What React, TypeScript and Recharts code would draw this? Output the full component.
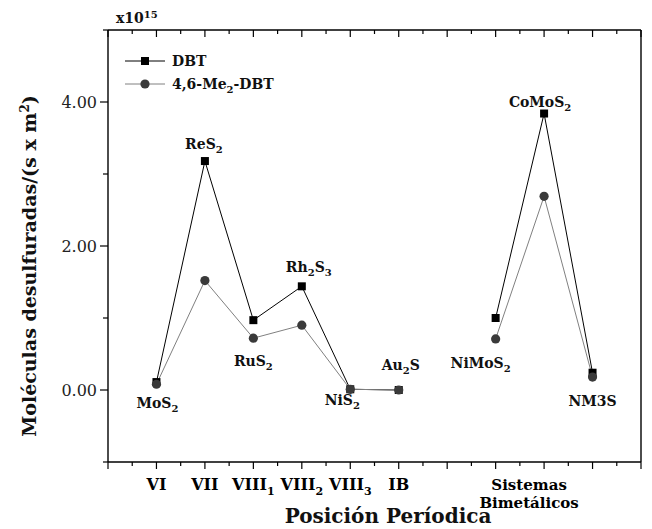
import React from "react";
import { Customized, Line, LabelList, LineChart, XAxis, YAxis } from "recharts";

// posiciones en el eje x (7 = hueco entre monometálicos y bimetálicos)
const xPositions = [1, 2, 3, 4, 5, 6, 7, 8, 9, 10];
const compounds = ["MoS_2", "ReS_2", "RuS_2", "Rh_2S_3", "NiS_2", "Au_2S", "", "NiMoS_2", "CoMoS_2", "NM3S"];
const dbt = [0.11, 3.18, 0.97, 1.44, 0.01, 0.0, null, 1.0, 3.84, 0.24];
const me2dbt = [0.08, 1.52, 0.72, 0.9, 0.01, 0.0, null, 0.71, 2.69, 0.18];

const xTickValues = [1, 2, 3, 4, 5, 6, 9];
const xTickLabels = ["VI", "VII", "VIII_1", "VIII_2", "VIII_3", "IB", "Sistemas|Bimetálicos"];
const yTickValues = [0, 2, 4];
const yTickLabels = ["0.00", "2.00", "4.00"];

// desplazamiento de cada etiqueta respecto al punto DBT
const labelOffsets: [number, number][] = [
  [1, 26], [-1, -12], [0, 46], [7, -14], [-8, 16], [2, -20], [0, 0], [-15, 50], [-4, -7], [0, 33],
];

const data = xPositions.map((x, i) => ({ x, dbt: dbt[i], me2: me2dbt[i] }));

const halfSteps = Array.from({ length: 23 }, (_, i) => i * 0.5);
const unitSteps = [-1, 0, 1, 2, 3, 4, 5];

const FONT = "'DejaVu Serif', serif";

function chem(text: string, subSize: number, shift: number) {
  const parts = text.split(/_(\d)/);
  const out: React.ReactNode[] = [];
  let down = false;
  parts.forEach((p, i) => {
    if (!p) return;
    if (i % 2 === 1) {
      out.push(
        <tspan key={i} dy={shift} fontSize={subSize}>
          {p}
        </tspan>
      );
      down = true;
    } else {
      out.push(
        <tspan key={i} dy={down ? -shift : 0}>
          {p}
        </tspan>
      );
      down = false;
    }
  });
  return out;
}

function BottomTick(props: any) {
  const { x, y, payload } = props;
  const v = payload.value;
  const major = Number.isInteger(v);
  const idx = xTickValues.indexOf(v);
  const label = idx >= 0 ? xTickLabels[idx] : null;
  return (
    <g>
      <line x1={x} x2={x} y1={y} y2={y + (major ? 7 : 4)} stroke="#000" strokeWidth={1.2} />
      {label && label.includes("|") ? (
        <text textAnchor="middle" fontFamily={FONT} fontWeight="bold" fontSize={15} fill="#000">
          <tspan x={x - 15} y={y + 28}>{label.split("|")[0]}</tspan>
          <tspan x={x - 15} y={y + 46}>{label.split("|")[1]}</tspan>
        </text>
      ) : label ? (
        <text x={x} y={y + 28} textAnchor="middle" fontFamily={FONT} fontWeight="bold" fontSize={16} fill="#000">
          {chem(label, 11, 5)}
        </text>
      ) : null}
    </g>
  );
}

function TopTick(props: any) {
  const { x, y, payload } = props;
  const major = Number.isInteger(payload.value);
  return <line x1={x} x2={x} y1={y} y2={y + (major ? 7 : 4)} stroke="#000" strokeWidth={1.2} />;
}

function LeftTick(props: any) {
  const { x, y, payload } = props;
  const v = payload.value;
  const idx = yTickValues.indexOf(v);
  return (
    <g>
      <line x1={x} x2={x - (idx >= 0 ? 8 : 5)} y1={y} y2={y} stroke="#000" strokeWidth={1.2} />
      {idx >= 0 && (
        <text x={x - 11} y={y + 6} textAnchor="end" fontFamily={FONT} fontSize={16} fill="#222">
          {yTickLabels[idx]}
        </text>
      )}
    </g>
  );
}

function RightTick(props: any) {
  const { x, y, payload } = props;
  const major = yTickValues.includes(payload.value);
  return <line x1={x} x2={x - (major ? 7 : 5)} y1={y} y2={y} stroke="#000" strokeWidth={1.2} />;
}

function Square(props: any) {
  const { cx, cy, index } = props;
  if (cx == null || cy == null) return <g key={`s${index}`} />;
  return <rect key={`s${index}`} x={cx - 4} y={cy - 4} width={8} height={8} fill="#000" />;
}

function Circle(props: any) {
  const { cx, cy, index } = props;
  if (cx == null || cy == null) return <g key={`c${index}`} />;
  return <circle key={`c${index}`} cx={cx} cy={cy} r={4.6} fill="#3a3a3a" />;
}

function PointLabel(props: any) {
  const { x, y, index } = props;
  const name = compounds[index];
  if (!name || x == null || y == null) return null;
  const [dx, dy] = labelOffsets[index];
  return (
    <text x={x + dx} y={y + dy} textAnchor="middle" fontFamily={FONT} fontWeight="bold" fontSize={14} fill="#111">
      {chem(name, 10, 4)}
    </text>
  );
}

function Extras() {
  return (
    <g fontFamily={FONT} fill="#111">
      <text x={116} y={23} fontWeight="bold" fontSize={14}>
        x10
        <tspan dy={-5} fontSize={10}>15</tspan>
      </text>
      <text
        transform="translate(36,266) rotate(-90)"
        textAnchor="middle"
        fontWeight="bold"
        fontSize={19}
      >
        Moléculas desulfuradas/(s x m
        <tspan dy={-7} fontSize={12}>2</tspan>
        <tspan dy={7}>)</tspan>
      </text>
      <text x={388} y={523} textAnchor="middle" fontWeight="bold" fontSize={20}>
        Posición Períodica
      </text>
      {/* leyenda */}
      <line x1={125} x2={165} y1={61} y2={61} stroke="#000" strokeWidth={1} />
      <rect x={141} y={57} width={8} height={8} fill="#000" />
      <text x={172} y={66} fontWeight="bold" fontSize={14}>DBT</text>
      <line x1={125} x2={165} y1={84} y2={84} stroke="#808080" strokeWidth={1} />
      <circle cx={145} cy={84} r={4.6} fill="#3a3a3a" />
      <text x={172} y={89} fontWeight="bold" fontSize={14}>
        {chem("4,6-Me_2-DBT", 10, 4)}
      </text>
    </g>
  );
}

export default function App() {
  return (
    <div style={{ position: "absolute", left: 0, top: 0, background: "#fff" }}>
      <LineChart width={652} height={529} data={data} margin={{ top: 29, right: 10, left: 48, bottom: 7 }}>
        <XAxis
          xAxisId="b"
          dataKey="x"
          type="number"
          domain={[0, 11]}
          ticks={halfSteps}
          interval={0}
          tickSize={0}
          tickMargin={0}
          tick={BottomTick}
          tickLine={false}
          height={60}
          axisLine={{ stroke: "#000", strokeWidth: 1.4 }}
        />
        <XAxis
          xAxisId="t"
          orientation="top"
          dataKey="x"
          type="number"
          domain={[0, 11]}
          ticks={halfSteps}
          interval={0}
          tickSize={0}
          tickMargin={0}
          tick={TopTick}
          tickLine={false}
          height={1}
          axisLine={{ stroke: "#000", strokeWidth: 1.4 }}
        />
        <YAxis
          yAxisId="l"
          type="number"
          domain={[-1, 5]}
          ticks={unitSteps}
          interval={0}
          tickSize={0}
          tickMargin={0}
          tick={LeftTick}
          tickLine={false}
          width={60}
          axisLine={{ stroke: "#000", strokeWidth: 1.4 }}
        />
        <YAxis
          yAxisId="r"
          orientation="right"
          type="number"
          domain={[-1, 5]}
          ticks={unitSteps}
          interval={0}
          tickSize={0}
          tickMargin={0}
          tick={RightTick}
          tickLine={false}
          width={1}
          axisLine={{ stroke: "#000", strokeWidth: 1.4 }}
        />
        <Line
          xAxisId="b"
          yAxisId="l"
          dataKey="dbt"
          name="DBT"
          stroke="#000"
          strokeWidth={1}
          dot={Square}
          activeDot={false}
          isAnimationActive={false}
        >
          <LabelList dataKey="dbt" content={PointLabel} />
        </Line>
        <Line
          xAxisId="b"
          yAxisId="l"
          dataKey="me2"
          name="4,6-Me2-DBT"
          stroke="#808080"
          strokeWidth={1}
          dot={Circle}
          activeDot={false}
          isAnimationActive={false}
        />
        <Customized component={Extras} />
      </LineChart>
    </div>
  );
}
